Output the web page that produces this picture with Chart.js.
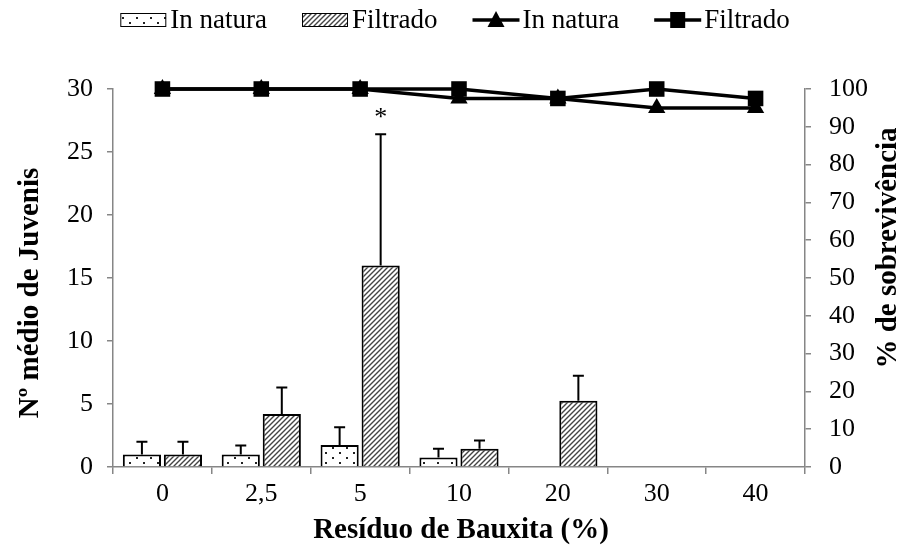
<!DOCTYPE html>
<html>
<head>
<meta charset="utf-8">
<script src="https://cdn.jsdelivr.net/npm/chart.js@4.4.1/dist/chart.umd.min.js"></script>
<style>
  html, body { margin: 0; padding: 0; background: #fff; }
  #wrap { width: 910px; height: 554px; }
</style>
</head>
<body>
<div id="wrap"><canvas id="chart" width="910" height="554"></canvas></div>
<script>
// data
const categories = ['0', '2,5', '5', '10', '20', '30', '40'];
const juvInNatura = [1.0, 1.0, 1.75, 0.75, 0, 0, 0];
const juvInNaturaErr = [1.0, 0.7, 1.4, 0.7, 0, 0, 0];
const juvFiltrado = [1.0, 4.2, 16.0, 1.45, 5.25, 0, 0];
const juvFiltradoErr = [1.0, 2.1, 10.4, 0.65, 2.0, 0, 0];
const survInNatura = [100, 100, 100, 97.5, 97.5, 95, 95];
const survFiltrado = [100, 100, 100, 100, 97.5, 100, 97.5];
const juvTicks = [0, 5, 10, 15, 20, 25, 30];
const survTicks = [0, 10, 20, 30, 40, 50, 60, 70, 80, 90, 100];
const starIndex = 2;

const FONT = "'Liberation Serif', 'Times New Roman', serif";
const AXIS = '#868686';

function makeDots() {
    const c = document.createElement('canvas');
    c.width = 14; c.height = 10;
    const g = c.getContext('2d');
    g.fillStyle = '#fff';
    g.fillRect(0, 0, 14, 10);
    g.fillStyle = '#222';
    g.fillRect(3, 2, 2, 2);
    g.fillRect(10, 7, 2, 2);
    return c;
}

function makeHatch() {
    const c = document.createElement('canvas');
    c.width = 5; c.height = 5;
    const g = c.getContext('2d');
    g.fillStyle = '#fff';
    g.fillRect(0, 0, 5, 5);
    g.strokeStyle = '#444';
    g.lineWidth = 1.4;
    g.beginPath();
    g.moveTo(-1, 6); g.lineTo(6, -1);
    g.moveTo(-1, 1); g.lineTo(1, -1);
    g.moveTo(4, 6); g.lineTo(6, 4);
    g.stroke();
    return c;
}

const ctx = document.getElementById('chart').getContext('2d');
const dotFill = ctx.createPattern(makeDots(), 'repeat');
const hatchFill = ctx.createPattern(makeHatch(), 'repeat');

const zeroNoBorder = c => (c.raw === 0 ? 0 : 2);

const extras = {
    id: 'extras',
    afterDatasetDraw(chart, args) {
        const ds = chart.data.datasets[args.index];
        if (!ds.errors) return;
        const y = chart.scales.y;
        const g = chart.ctx;
        g.save();
        g.strokeStyle = '#000';
        g.lineWidth = 2;
        args.meta.data.forEach((bar, i) => {
            const err = ds.errors[i];
            if (!err) return;
            const top = y.getPixelForValue(ds.data[i] + err);
            g.beginPath();
            g.moveTo(bar.x, bar.y);
            g.lineTo(bar.x, top);
            g.moveTo(bar.x - 5.5, top);
            g.lineTo(bar.x + 5.5, top);
            g.stroke();
        });
        g.restore();
    },
    afterDraw(chart) {
        const g = chart.ctx;
        g.save();
        g.fillStyle = '#000';

        // asterisk above the 5% Filtrado bar
        const fMeta = chart.getDatasetMeta(1);
        const bar = fMeta.data[starIndex];
        const yTop = chart.scales.y.getPixelForValue(juvFiltrado[starIndex] + juvFiltradoErr[starIndex]);
        g.font = '26px ' + FONT;
        g.textAlign = 'center';
        g.textBaseline = 'middle';
        g.fillText('*', bar.x, yTop - 16);

        // axis titles
        g.font = 'bold 29px ' + FONT;
        g.textBaseline = 'middle';
        g.fillText('Resíduo de Bauxita (%)', 461, 531);
        g.save();
        g.translate(31, 293);
        g.rotate(-Math.PI / 2);
        g.fillText('Nº médio de Juvenis', 0, 0);
        g.restore();
        g.save();
        g.translate(889, 248);
        g.rotate(-Math.PI / 2);
        g.fillText('% de sobrevivência', 0, 0);
        g.restore();

        // legend
        g.font = '27px ' + FONT;
        g.textAlign = 'left';
        const items = chart.data.datasets.map(ds => ({ ds, w: 50 + g.measureText(ds.label).width }));
        const gap = 35;
        const total = items.reduce((s, it) => s + it.w, 0) + gap * (items.length - 1);
        let x = 455 - total / 2;
        const ly = 20;
        items.forEach(it => {
            const ds = it.ds;
            g.fillStyle = '#000';
            if (ds.type === 'line') {
                g.strokeStyle = '#000';
                g.lineWidth = 3.5;
                g.beginPath();
                g.moveTo(x, ly); g.lineTo(x + 47, ly);
                g.stroke();
                g.beginPath();
                if (ds.pointStyle === 'triangle') {
                    g.moveTo(x + 23.5, ly - 9);
                    g.lineTo(x + 32, ly + 7);
                    g.lineTo(x + 15, ly + 7);
                    g.closePath();
                    g.fill();
                } else {
                    g.fillRect(x + 16, ly - 8, 15, 16);
                }
            } else {
                g.fillStyle = ds.backgroundColor;
                g.fillRect(x, ly - 7, 46, 14);
                g.strokeStyle = '#000';
                g.lineWidth = 1;
                g.strokeRect(x + 0.5, ly - 6.5, 45, 13);
            }
            g.fillStyle = '#000';
            g.fillText(ds.label, x + 50, ly + 1);
            x += it.w + gap;
        });
        g.restore();
    }
};

const tickFont = { family: FONT, size: 26 };

new Chart(ctx, {
    type: 'bar',
    data: {
        labels: categories,
        datasets: [
            {
                label: 'In natura',
                data: juvInNatura,
                errors: juvInNaturaErr,
                yAxisID: 'y',
                backgroundColor: dotFill,
                borderColor: '#000',
                borderWidth: zeroNoBorder,
                borderSkipped: 'bottom',
                categoryPercentage: 0.83,
                barPercentage: 0.93,
                order: 2
            },
            {
                label: 'Filtrado',
                data: juvFiltrado,
                errors: juvFiltradoErr,
                yAxisID: 'y',
                backgroundColor: hatchFill,
                borderColor: '#000',
                borderWidth: zeroNoBorder,
                borderSkipped: 'bottom',
                categoryPercentage: 0.83,
                barPercentage: 0.93,
                order: 2
            },
            {
                type: 'line',
                label: 'In natura',
                data: survInNatura,
                yAxisID: 'y1',
                borderColor: '#000',
                backgroundColor: '#000',
                borderWidth: 3.5,
                pointStyle: 'triangle',
                pointRadius: 10,
                pointBorderWidth: 0,
                tension: 0,
                fill: false,
                clip: false,
                order: 1
            },
            {
                type: 'line',
                label: 'Filtrado',
                data: survFiltrado,
                yAxisID: 'y1',
                borderColor: '#000',
                backgroundColor: '#000',
                borderWidth: 3.5,
                pointStyle: 'rect',
                pointRadius: 11,
                pointBorderWidth: 0,
                tension: 0,
                fill: false,
                clip: false,
                order: 0
            }
        ]
    },
    options: {
        responsive: false,
        animation: false,
        layout: { padding: { top: 89, left: 0, right: 0, bottom: 0 } },
        plugins: {
            legend: { display: false },
            tooltip: { enabled: false }
        },
        scales: {
            x: {
                offset: true,
                grid: { display: true, drawOnChartArea: false, offset: true, tickLength: 7, color: AXIS, lineWidth: 1.5 },
                border: { color: AXIS, width: 1.5 },
                ticks: { font: tickFont, color: '#000', padding: 5, maxRotation: 0 },
                afterFit: s => { s.height = 87; }
            },
            y: {
                position: 'left',
                min: 0,
                max: 30,
                afterBuildTicks: s => { s.ticks = juvTicks.map(v => ({ value: v })); },
                grid: { display: true, drawOnChartArea: false, tickLength: 6, color: AXIS, lineWidth: 1.5 },
                border: { color: AXIS, width: 1.5 },
                ticks: { font: tickFont, color: '#000', padding: 14 },
                afterFit: s => { s.width = 113; }
            },
            y1: {
                position: 'right',
                min: 0,
                max: 100,
                afterBuildTicks: s => { s.ticks = survTicks.map(v => ({ value: v })); },
                grid: { display: true, drawOnChartArea: false, tickLength: 6, color: AXIS, lineWidth: 1.5 },
                border: { color: AXIS, width: 1.5 },
                ticks: { font: tickFont, color: '#000', padding: 18 },
                afterFit: s => { s.width = 105; }
            }
        }
    },
    plugins: [extras]
});
</script>
</body>
</html>
